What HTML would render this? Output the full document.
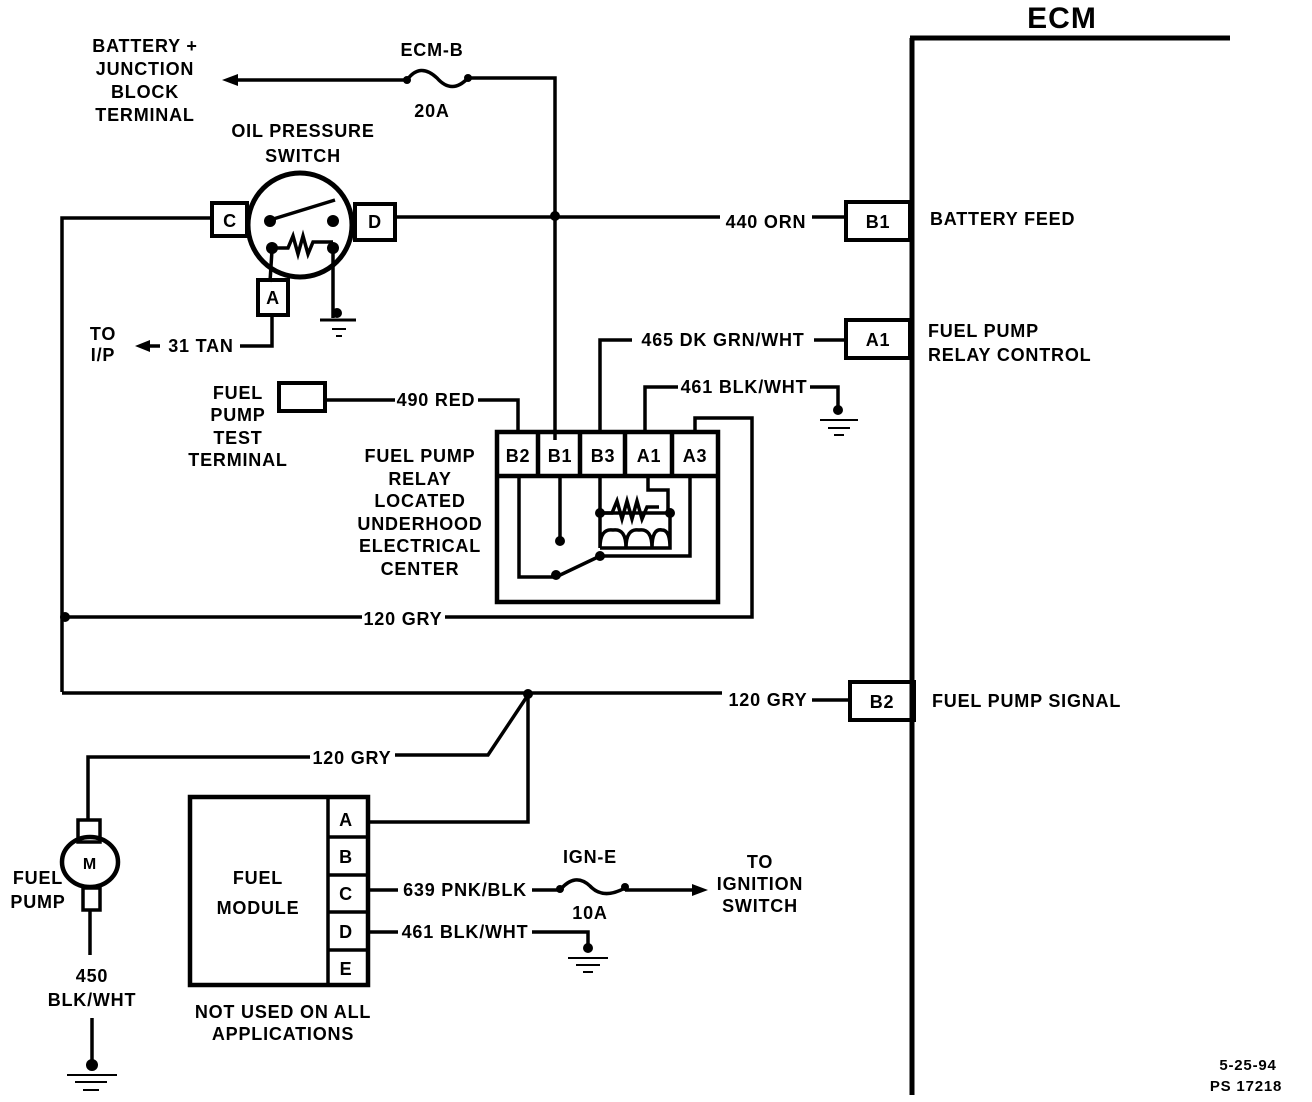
<!DOCTYPE html>
<html><head><meta charset="utf-8"><style>
html,body{margin:0;padding:0;background:#fff;}
svg{display:block}
text{font-family:"Liberation Sans",sans-serif;font-weight:bold;font-size:18px;letter-spacing:0.8px;fill:#000;}
</style></head><body>
<svg width="1312" height="1102" viewBox="0 0 1312 1102" xmlns="http://www.w3.org/2000/svg">
<g fill="none" stroke="#000" stroke-width="3.5">
<!-- ECM -->
<path d="M910 38H1230M912 38V1095" stroke-width="5"/>
<rect x="846" y="202" width="64" height="38" stroke-width="4"/>
<rect x="846" y="320" width="64" height="38" stroke-width="4"/>
<rect x="850" y="682" width="64" height="38" stroke-width="4"/>
<!-- top fuse line -->
<path d="M555 215V78H470M405 80H235"/>
<path d="M407 80 Q420 62 437 78 Q452 95 468 78"/>
<path d="M555 215V440"/>
<!-- 440 ORN -->
<path d="M395 217H720M812 217H846"/>
<!-- oil pressure switch -->
<circle cx="300" cy="225" r="52" stroke-width="5"/>
<rect x="212" y="203" width="35" height="33" stroke-width="4"/>
<rect x="355" y="204" width="40" height="36" stroke-width="4"/>
<rect x="258" y="280" width="30" height="35" stroke-width="4"/>
<path d="M270 220L335 200M212 218H62V692"/>
<path d="M272 250L270 282M333 250V318"/>
<path d="M272 248H288l5-12 5 18 5-18 5 18 5-12h20"/>
<path d="M320 320H356" stroke-width="3"/>
<path d="M332 329H346M336 336H342" stroke-width="2"/>
<path d="M272 315V346H240M160 346H142"/>
<!-- fuel pump test terminal -->
<rect x="279" y="383" width="46" height="28" stroke-width="4"/>
<path d="M325 400H395M478 400H518V432"/>
<!-- 465 -->
<path d="M600 432V340H632M814 340H846"/>
<!-- 461 -->
<path d="M645 432V387H678M810 387H838V410"/>
<path d="M820 420H858M828 428H850M834 435H844" stroke-width="2"/>
<!-- relay -->
<rect x="497" y="432" width="221" height="170" stroke-width="4.5"/>
<path d="M497 476H718M538 432V476M580 432V476M625 432V476M672 432V476" stroke-width="4.5"/>
<path d="M519 476V577H556L600 556H690V476"/>
<path d="M560 476V541M600 476V513H670M648 476V490H668V513"/>
<path d="M600 513H612l5-12 5 18 5-18 5 18 5-18 5 18 5-12h12"/>
<path d="M600 513V548M670 513V548M600 548Q600 528 613 530Q626 528 626 548Q626 528 639 530Q652 528 652 548Q652 528 662 530Q670 530 670 548H600"/>
<!-- A3 -->
<path d="M695 432V418H752V617H445M362 617H65"/>
<!-- 120 GRY signal -->
<path d="M62 693H722M812 700H850"/>
<path d="M528 693V822H368"/>
<path d="M528 695L488 755H395M310 757H88V820"/>
<!-- fuel pump motor -->
<rect x="78" y="820" width="22" height="22"/>
<ellipse cx="90" cy="862" rx="28" ry="25" stroke-width="4.5"/>
<rect x="83" y="888" width="17" height="22"/>
<path d="M90 910V955M92 1018V1064"/>
<path d="M67 1075H117M75 1082H107M83 1090H99" stroke-width="2"/>
<!-- fuel module -->
<rect x="190" y="797" width="178" height="188" stroke-width="4.5"/>
<path d="M328 797V985M328 837H368M328 875H368M328 912H368M328 950H368" stroke-width="3.5"/>
<path d="M368 890H398M532 890H560M625 890H700"/>
<path d="M560 890Q575 872 590 886Q603 900 625 888"/>
<path d="M368 932H398M532 932H588V948"/>
<path d="M568 958H608M576 965H600M583 972H593" stroke-width="2"/>
</g>
<g fill="#000">
<circle cx="555" cy="216" r="5"/>
<circle cx="65" cy="617" r="5"/>
<circle cx="528" cy="694" r="5"/>
<circle cx="270" cy="221" r="6"/><circle cx="333" cy="221" r="6"/>
<circle cx="272" cy="248" r="6"/><circle cx="333" cy="248" r="6"/>
<circle cx="337" cy="313" r="5"/>
<circle cx="838" cy="410" r="5"/>
<circle cx="560" cy="541" r="5"/><circle cx="600" cy="513" r="5"/><circle cx="670" cy="513" r="5"/><circle cx="556" cy="575" r="5"/><circle cx="600" cy="556" r="5"/>
<circle cx="92" cy="1065" r="6"/>
<circle cx="588" cy="948" r="5"/>
<circle cx="560" cy="889" r="4"/><circle cx="625" cy="887" r="4"/>
<circle cx="407" cy="80" r="4"/><circle cx="468" cy="78" r="4"/>
<path d="M222 80L238 74V86Z"/>
<path d="M135 346L150 340V352Z"/>
<path d="M708 890L692 884V896Z"/>
</g>
<text x="1062" y="28" text-anchor="middle" style="font-size:30px;letter-spacing:1px">ECM</text>
<text x="930" y="225">BATTERY FEED</text>
<text x="928" y="337">FUEL PUMP</text>
<text x="928" y="361">RELAY CONTROL</text>
<text x="932" y="707">FUEL PUMP SIGNAL</text>
<text x="878" y="228" text-anchor="middle">B1</text>
<text x="878" y="346" text-anchor="middle">A1</text>
<text x="882" y="708" text-anchor="middle">B2</text>
<text x="766" y="228" text-anchor="middle">440 ORN</text>
<text x="723" y="346" text-anchor="middle">465 DK GRN/WHT</text>
<text x="744" y="393" text-anchor="middle">461 BLK/WHT</text>
<text x="403" y="625" text-anchor="middle">120 GRY</text>
<text x="768" y="706" text-anchor="middle">120 GRY</text>
<text x="352" y="764" text-anchor="middle">120 GRY</text>
<text x="436" y="406" text-anchor="middle">490 RED</text>
<text x="432" y="56" text-anchor="middle">ECM-B</text>
<text x="432" y="117" text-anchor="middle">20A</text>
<text x="145" y="52" text-anchor="middle">BATTERY +</text>
<text x="145" y="75" text-anchor="middle">JUNCTION</text>
<text x="145" y="98" text-anchor="middle">BLOCK</text>
<text x="145" y="121" text-anchor="middle">TERMINAL</text>
<text x="303" y="137" text-anchor="middle">OIL PRESSURE</text>
<text x="303" y="162" text-anchor="middle">SWITCH</text>
<text x="230" y="227" text-anchor="middle">C</text>
<text x="375" y="228" text-anchor="middle">D</text>
<text x="273" y="304" text-anchor="middle">A</text>
<text x="103" y="340" text-anchor="middle">TO</text>
<text x="103" y="361" text-anchor="middle">I/P</text>
<text x="201" y="352" text-anchor="middle">31 TAN</text>
<text x="238" y="399" text-anchor="middle">FUEL</text>
<text x="238" y="421" text-anchor="middle">PUMP</text>
<text x="238" y="444" text-anchor="middle">TEST</text>
<text x="238" y="466" text-anchor="middle">TERMINAL</text>
<text x="420" y="462" text-anchor="middle">FUEL PUMP</text>
<text x="420" y="485" text-anchor="middle">RELAY</text>
<text x="420" y="507" text-anchor="middle">LOCATED</text>
<text x="420" y="530" text-anchor="middle">UNDERHOOD</text>
<text x="420" y="552" text-anchor="middle">ELECTRICAL</text>
<text x="420" y="575" text-anchor="middle">CENTER</text>
<text x="518" y="462" text-anchor="middle">B2</text>
<text x="560" y="462" text-anchor="middle">B1</text>
<text x="603" y="462" text-anchor="middle">B3</text>
<text x="649" y="462" text-anchor="middle">A1</text>
<text x="695" y="462" text-anchor="middle">A3</text>
<text x="90" y="869" text-anchor="middle" style="font-size:16px">M</text>
<text x="38" y="884" text-anchor="middle">FUEL</text>
<text x="38" y="908" text-anchor="middle">PUMP</text>
<text x="92" y="982" text-anchor="middle">450</text>
<text x="92" y="1006" text-anchor="middle">BLK/WHT</text>
<text x="258" y="884" text-anchor="middle">FUEL</text>
<text x="258" y="914" text-anchor="middle">MODULE</text>
<text x="346" y="826" text-anchor="middle">A</text>
<text x="346" y="863" text-anchor="middle">B</text>
<text x="346" y="900" text-anchor="middle">C</text>
<text x="346" y="938" text-anchor="middle">D</text>
<text x="346" y="975" text-anchor="middle">E</text>
<text x="283" y="1018" text-anchor="middle">NOT USED ON  ALL</text>
<text x="283" y="1040" text-anchor="middle">APPLICATIONS</text>
<text x="465" y="896" text-anchor="middle">639 PNK/BLK</text>
<text x="465" y="938" text-anchor="middle">461 BLK/WHT</text>
<text x="590" y="863" text-anchor="middle">IGN-E</text>
<text x="590" y="919" text-anchor="middle">10A</text>
<text x="760" y="868" text-anchor="middle">TO</text>
<text x="760" y="890" text-anchor="middle">IGNITION</text>
<text x="760" y="912" text-anchor="middle">SWITCH</text>
<text x="1248" y="1070" text-anchor="middle" style="font-size:15px">5-25-94</text>
<text x="1246" y="1091" text-anchor="middle" style="font-size:15px">PS 17218</text>
</svg>
</body></html>
